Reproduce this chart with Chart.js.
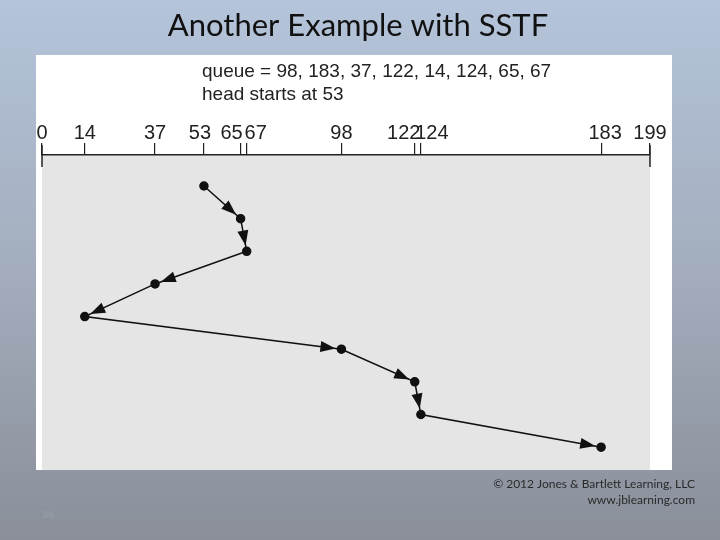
<!DOCTYPE html>
<html>
<head>
<meta charset="utf-8">
<script src="https://cdn.jsdelivr.net/npm/chart.js@4"></script>
<style>
  html, body { margin: 0; padding: 0; }
  #wrap { width: 720px; height: 540px; }
</style>
</head>
<body>
<div id="wrap"><canvas id="myChart" width="720" height="540"></canvas></div>
<script>
// SSTF service order, starting from the head position
const cylinders = [53, 65, 67, 37, 14, 98, 122, 124, 183];
const steps = [0, 1, 2, 3, 4, 5, 6, 7, 8];
const tickValues = [0, 14, 37, 53, 65, 67, 98, 122, 124, 183, 199];
const queueText = 'queue = 98, 183, 37, 122, 14, 124, 65, 67';
const headText = 'head starts at 53';

// nudge labels of ticks that sit close together so they don't overlap
const labelNudge = { 53: -4, 65: -9, 67: 9, 122: -11, 124: 11, 183: 4 };

const slidePlugin = {
    id: 'slide',
    beforeDraw: (chart) => {
        const c = chart.ctx;
        const area = chart.chartArea;
        c.save();
        const g = c.createLinearGradient(0, 0, 0, 540);
        g.addColorStop(0, '#b4c4da');
        g.addColorStop(0.5, '#a3adbd');
        g.addColorStop(1, '#8a8f99');
        c.fillStyle = g;
        c.fillRect(0, 0, 720, 540);
        c.fillStyle = '#ffffff';
        c.fillRect(36, 55, 636, area.bottom - 55);
        c.fillStyle = '#e5e5e5';
        c.fillRect(area.left, area.top, area.right - area.left, area.bottom - area.top);
        c.fillStyle = '#111';
        c.font = '31px Lato, "Noto Sans", sans-serif';
        c.textAlign = 'center';
        c.textBaseline = 'alphabetic';
        c.fillText('Another Example with SSTF', 358, 36);
        c.textAlign = 'left';
        c.fillStyle = '#222';
        c.font = '19px "Liberation Sans Narrow", "Liberation Sans", Arial, sans-serif';
        c.fillText(queueText, 202, 77);
        c.fillText(headText, 202, 100);
        c.textAlign = 'right';
        c.font = '12px Lato, "Noto Sans", sans-serif';
        c.fillStyle = '#2a2a2a';
        c.fillText('\u00a9 2012 Jones & Bartlett Learning, LLC', 695, 488);
        c.fillText('www.jblearning.com', 695, 504);
        c.textAlign = 'left';
        c.fillStyle = '#9aa0aa';
        c.font = '10px Lato, sans-serif';
        c.fillText('34', 42, 518);
        c.restore();
    },
    afterDraw: (chart) => {
        const c = chart.ctx;
        const xs = chart.scales.x;
        const ys = chart.scales.y;
        const area = chart.chartArea;
        c.save();
        // tick labels
        c.fillStyle = '#222';
        c.font = '20px "Liberation Sans Narrow", "Liberation Sans", Arial, sans-serif';
        c.textAlign = 'center';
        c.textBaseline = 'alphabetic';
        tickValues.forEach((v) => {
            const px = xs.getPixelForValue(v) + (labelNudge[v] || 0);
            c.fillText(String(v), px, 139);
        });
        c.strokeStyle = '#222';
        c.lineWidth = 1.5;
        [0, 199].forEach((v) => {
            const px = xs.getPixelForValue(v);
            c.beginPath();
            c.moveTo(px, area.top - 10);
            c.lineTo(px, area.top + 12);
            c.stroke();
        });
        // arrowheads
        c.fillStyle = '#111';
        for (let i = 0; i < cylinders.length - 1; i++) {
            const x0 = xs.getPixelForValue(cylinders[i]);
            const y0 = ys.getPixelForValue(steps[i]);
            const x1 = xs.getPixelForValue(cylinders[i + 1]);
            const y1 = ys.getPixelForValue(steps[i + 1]);
            const a = Math.atan2(y1 - y0, x1 - x0);
            const tx = x1 - 6 * Math.cos(a);
            const ty = y1 - 6 * Math.sin(a);
            c.beginPath();
            c.moveTo(tx, ty);
            c.lineTo(tx - 15 * Math.cos(a) + 5.5 * Math.sin(a), ty - 15 * Math.sin(a) - 5.5 * Math.cos(a));
            c.lineTo(tx - 15 * Math.cos(a) - 5.5 * Math.sin(a), ty - 15 * Math.sin(a) + 5.5 * Math.cos(a));
            c.closePath();
            c.fill();
        }
        c.restore();
    }
};

const ctx = document.getElementById('myChart').getContext('2d');
const myChart = new Chart(ctx, {
    type: 'line',
    data: {
        datasets: [{
            data: cylinders.map((v, i) => ({ x: v, y: steps[i] })),
            borderColor: '#111',
            borderWidth: 1.5,
            pointBackgroundColor: '#111',
            pointBorderColor: '#111',
            pointRadius: 4,
            tension: 0
        }]
    },
    options: {
        responsive: false,
        animation: false,
        layout: { padding: { left: 42, right: 70, top: 0, bottom: 70 } },
        plugins: { legend: { display: false }, tooltip: { enabled: false } },
        scales: {
            x: {
                type: 'linear',
                position: 'top',
                min: 0,
                max: 199,
                afterBuildTicks: (scale) => {
                    scale.ticks = tickValues.map((v) => ({ value: v }));
                },
                afterFit: (scale) => { scale.height = 155; },
                grid: { drawOnChartArea: false, tickLength: 12, color: '#222', lineWidth: 1.2 },
                border: { color: '#222', width: 1.5 },
                ticks: { autoSkip: false, maxRotation: 0, callback: () => '' }
            },
            y: {
                type: 'linear',
                display: false,
                reverse: true,
                min: -0.95,
                max: 8.7
            }
        }
    },
    plugins: [slidePlugin]
});
</script>
</body>
</html>
